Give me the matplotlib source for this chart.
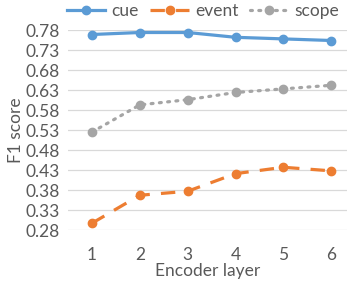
import matplotlib
matplotlib.use('Agg')
import matplotlib.pyplot as plt

# values
layers = [1, 2, 3, 4, 5, 6]
cue = [0.769, 0.774, 0.774, 0.762, 0.758, 0.754]
event = [0.297, 0.367, 0.377, 0.421, 0.437, 0.428]
scope = [0.525, 0.593, 0.606, 0.624, 0.633, 0.642]
yticks = [0.28, 0.33, 0.38, 0.43, 0.48, 0.53, 0.58, 0.63, 0.68, 0.73, 0.78]

plt.rcParams['font.family'] = ['Lato', 'DejaVu Sans']
txt = '#595959'

fig = plt.figure(figsize=(3.47, 2.84), dpi=100)
ax = fig.add_axes([0.196, 0.190, 0.804, 0.704])

ax.plot(layers, cue, color='#5B9BD5', lw=2.3, marker='o', ms=6, label='cue', clip_on=False)
ax.plot(layers, event, color='#ED7D31', lw=2.3, marker='o', ms=6, dashes=(4.5, 3.5),
        label='event', clip_on=False)
ax.plot(layers, scope, color='#A5A5A5', lw=2.3, marker='o', ms=6, dashes=(0.6, 2.0),
        dash_capstyle='round', label='scope', clip_on=False)

ax.set_xlim(0.5, 6.33)
ax.set_ylim(0.28, 0.78)
ax.set_yticks(yticks)
ax.set_yticklabels(['%.2f' % v for v in yticks])
ax.set_xticks(layers)
ax.grid(axis='y', color='#D9D9D9', lw=0.9)
ax.set_axisbelow(True)
for s in ax.spines.values():
    s.set_visible(False)
ax.tick_params(length=0, labelsize=12.5, labelcolor=txt, pad=6)
ax.tick_params(axis='x', pad=12)

ax.set_xlabel('Encoder layer', fontsize=12.5, color=txt, labelpad=0)
ax.set_ylabel('F1 score', fontsize=12.5, color=txt, labelpad=1)

leg = fig.legend(loc='upper center', bbox_to_anchor=(0.585, 1.025), ncol=3, frameon=False,
                 fontsize=12.5, handlelength=2.2, columnspacing=0.7, handletextpad=0.35,
                 borderaxespad=0.2)
for t in leg.get_texts():
    t.set_color(txt)

fig.savefig('out.png', dpi=100)
